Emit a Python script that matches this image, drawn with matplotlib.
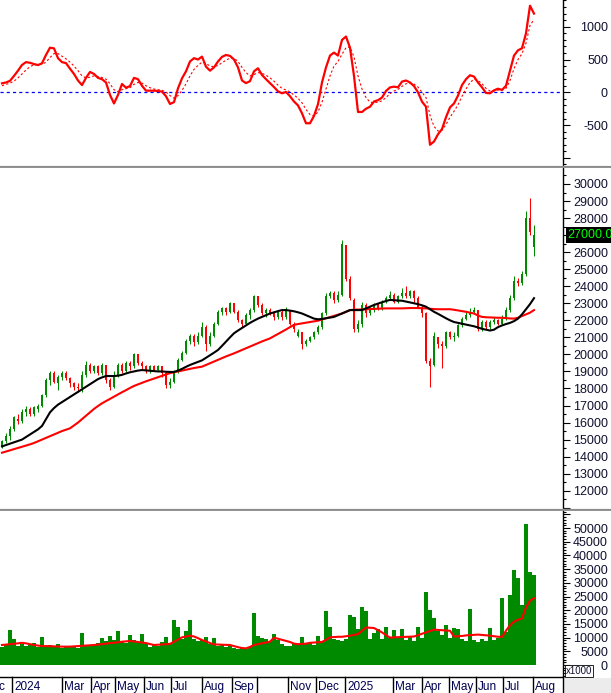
import numpy as np
import matplotlib
matplotlib.use("Agg")
import matplotlib.pyplot as plt
from matplotlib.ticker import MultipleLocator, FuncFormatter
from matplotlib.transforms import blended_transform_factory
from matplotlib.lines import Line2D
from matplotlib.patches import Rectangle

plt.rcParams['font.family'] = ['Liberation Sans', 'DejaVu Sans']
plt.rcParams['axes.unicode_minus'] = False

# price bars (x1000), one bar ~ 3 sessions
opens = [14.6, 14.9, 15.2, 15.6, 16.2, 16.1, 16.6, 16.8, 16.5, 16.8,
         17.0, 17.6, 18.5, 18.9, 18.3, 18.7, 18.9, 18.6, 18.3, 18.1,
         18.0, 18.8, 19.4, 19.0, 19.3, 18.9, 19.4, 18.5, 18.1, 18.8,
         19.4, 19.0, 19.5, 19.3, 20.0, 19.5, 19.3, 19.0, 19.3, 19.1,
         19.3, 18.9, 18.2, 18.4, 19.0, 19.7, 20.1, 20.8, 21.1, 20.7,
         21.1, 21.6, 20.6, 21.1, 21.8, 22.5, 22.7, 22.5, 23.0, 22.5,
         22.0, 21.8, 22.3, 22.6, 23.4, 22.9, 22.4, 22.6, 22.4, 22.2,
         22.5, 22.2, 22.6, 21.8, 21.1, 21.3, 20.6, 20.8, 21.0, 21.3,
         21.6, 22.4, 23.4, 23.6, 23.2, 23.5, 26.4, 24.4, 23.2, 21.5,
         21.8, 22.9, 22.4, 22.6, 22.9, 22.7, 23.1, 23.3, 23.5, 23.1,
         23.4, 23.6, 23.4, 23.7, 23.3, 22.8, 22.4, 19.6, 19.4, 21.0,
         20.6, 20.5, 21.3, 21.0, 21.1, 21.7, 22.1, 22.3, 22.5, 22.6,
         21.5, 21.9, 21.6, 21.9, 22.0, 21.8, 22.1, 22.6, 23.3, 24.3,
         24.2, 24.7, 28.0, 26.3]
closes = [14.9, 15.2, 15.6, 16.3, 16.1, 16.6, 16.8, 16.5, 16.9, 17.0,
          17.6, 18.5, 18.9, 18.4, 18.7, 18.9, 18.6, 18.3, 18.1, 18.0,
          18.8, 19.4, 19.0, 19.3, 18.9, 19.4, 18.5, 18.1, 18.8, 19.4,
          19.0, 19.5, 19.3, 20.0, 19.5, 19.3, 19.0, 19.3, 19.1, 19.3,
          18.9, 18.2, 18.4, 19.0, 19.7, 20.1, 20.8, 21.1, 20.7, 21.1,
          21.6, 20.6, 21.1, 21.8, 22.5, 22.7, 22.5, 23.0, 22.5, 22.0,
          21.8, 22.3, 22.6, 23.4, 22.9, 22.4, 22.6, 22.4, 22.2, 22.5,
          22.2, 22.6, 21.8, 21.5, 21.3, 20.6, 20.8, 21.0, 21.3, 21.6,
          22.4, 23.4, 23.6, 23.2, 23.5, 26.5, 24.4, 23.3, 21.5, 21.8,
          22.9, 22.4, 22.6, 22.9, 22.7, 23.1, 23.3, 23.5, 23.1, 23.4,
          23.6, 23.4, 23.7, 23.3, 22.8, 22.4, 19.6, 19.3, 21.1, 20.6,
          20.5, 21.3, 21.0, 21.1, 21.7, 22.1, 22.3, 22.5, 22.6, 21.5,
          21.9, 21.6, 21.9, 22.0, 21.8, 22.1, 22.6, 23.3, 24.3, 24.2,
          24.7, 28.0, 27.2, 27.0]
highs = [15.0, 15.4, 15.8, 16.4, 16.5, 16.8, 17.0, 16.9, 17.0, 17.1,
         17.7, 18.6, 19.0, 19.0, 18.8, 19.0, 19.0, 18.7, 18.4, 18.3,
         19.0, 19.6, 19.5, 19.4, 19.4, 19.5, 19.4, 18.6, 19.0, 19.5,
         19.5, 19.6, 19.6, 20.1, 20.0, 19.6, 19.4, 19.4, 19.4, 19.4,
         19.3, 19.0, 18.6, 19.1, 19.8, 20.2, 20.9, 21.2, 21.2, 21.3,
         21.9, 21.7, 21.3, 21.9, 22.6, 22.8, 22.8, 23.1, 23.0, 22.6,
         22.1, 22.4, 22.7, 23.5, 23.4, 23.0, 22.7, 22.7, 22.5, 22.6,
         22.6, 22.8, 22.6, 21.9, 21.5, 21.3, 20.9, 21.1, 21.4, 21.7,
         22.5, 23.6, 23.7, 23.7, 23.7, 26.7, 26.4, 24.6, 23.3, 22.0,
         23.1, 23.0, 22.8, 23.0, 23.0, 23.2, 23.4, 23.7, 23.6, 23.5,
         23.9, 24.0, 23.8, 23.8, 23.4, 22.9, 22.5, 19.8, 21.3, 21.0,
         20.8, 21.4, 21.4, 21.3, 21.8, 22.2, 22.5, 22.7, 22.8, 22.6,
         22.0, 22.0, 22.0, 22.2, 22.1, 22.3, 22.8, 23.5, 24.6, 24.5,
         24.9, 28.4, 29.2, 27.6]
lows = [14.5, 14.8, 15.0, 15.5, 15.9, 16.0, 16.4, 16.4, 16.4, 16.6,
        16.9, 17.5, 18.2, 18.3, 17.9, 18.5, 18.5, 18.1, 17.9, 17.8,
        17.8, 18.7, 18.9, 18.9, 18.8, 18.8, 18.3, 17.9, 18.0, 18.7,
        18.9, 18.9, 19.1, 19.2, 19.4, 19.1, 18.9, 18.9, 19.0, 19.0,
        18.7, 18.0, 18.0, 18.3, 18.9, 19.6, 20.0, 20.6, 20.5, 20.6,
        21.0, 20.2, 20.5, 21.0, 21.7, 22.3, 22.3, 22.4, 22.4, 21.9,
        21.6, 21.7, 22.1, 22.5, 22.8, 22.3, 22.2, 22.3, 22.0, 22.1,
        22.0, 22.1, 21.7, 21.3, 21.0, 20.3, 20.5, 20.7, 20.9, 21.2,
        21.5, 22.3, 23.3, 23.0, 23.1, 23.4, 24.3, 23.2, 21.3, 21.3,
        21.6, 22.2, 22.3, 22.5, 22.6, 22.6, 23.0, 23.2, 23.0, 23.0,
        23.3, 23.3, 23.3, 23.1, 22.7, 22.2, 19.5, 18.1, 19.3, 20.4,
        19.2, 20.4, 20.9, 20.8, 21.0, 21.6, 22.0, 22.2, 22.4, 21.4,
        21.4, 21.5, 21.5, 21.8, 21.7, 21.7, 22.0, 22.5, 23.2, 24.0,
        24.1, 24.6, 27.0, 25.8]

ma_short = [14.6, 14.68, 14.76, 14.84, 14.92, 15.0, 15.15, 15.3, 15.45, 15.6,
            15.8, 16.2, 16.6, 16.85, 17.05, 17.2, 17.35, 17.5, 17.65, 17.8,
            17.95, 18.1, 18.25, 18.4, 18.55, 18.65, 18.73, 18.73, 18.73, 18.75,
            18.8, 18.88, 18.95, 19.0, 19.05, 19.08, 19.06, 19.04, 19.02, 19.0,
            19.0, 18.98, 18.97, 18.97, 19.05, 19.15, 19.27, 19.38, 19.47, 19.56,
            19.65, 19.8, 19.95, 20.1, 20.26, 20.5, 20.75, 21.0, 21.24, 21.4,
            21.55, 21.7, 21.85, 21.98, 22.1, 22.2, 22.3, 22.4, 22.47, 22.54,
            22.6, 22.6, 22.57, 22.53, 22.47, 22.4, 22.3, 22.2, 22.1, 22.06,
            22.08, 22.12, 22.16, 22.2, 22.3, 22.4, 22.5, 22.6, 22.6, 22.6,
            22.6, 22.7, 22.8, 22.9, 22.98, 23.06, 23.13, 23.2, 23.18, 23.16,
            23.15, 23.1, 23.05, 23.0, 22.95, 22.88, 22.8, 22.65, 22.5, 22.38,
            22.25, 22.12, 22.0, 21.9, 21.85, 21.8, 21.75, 21.7, 21.65, 21.58,
            21.5, 21.45, 21.4, 21.45, 21.6, 21.7, 21.78, 21.85, 21.95, 22.1,
            22.35, 22.65, 22.95, 23.3]
ma_long = [14.23, 14.3, 14.37, 14.44, 14.51, 14.58, 14.65, 14.72, 14.8, 14.9,
           15.0, 15.1, 15.2, 15.3, 15.4, 15.5, 15.58, 15.66, 15.83, 16.0,
           16.2, 16.4, 16.6, 16.8, 16.97, 17.13, 17.26, 17.39, 17.52, 17.65,
           17.78, 17.9, 18.03, 18.15, 18.24, 18.33, 18.42, 18.5, 18.58, 18.66,
           18.74, 18.82, 18.9, 18.95, 19.0, 19.05, 19.1, 19.15, 19.2, 19.24,
           19.28, 19.38, 19.48, 19.58, 19.68, 19.78, 19.88, 19.97, 20.06, 20.16,
           20.26, 20.36, 20.46, 20.56, 20.66, 20.76, 20.85, 20.94, 21.07, 21.2,
           21.33, 21.46, 21.6, 21.73, 21.78, 21.82, 21.86, 21.9, 21.94, 21.98,
           22.05, 22.12, 22.19, 22.26, 22.33, 22.4, 22.5, 22.6, 22.62, 22.63,
           22.64, 22.65, 22.66, 22.67, 22.68, 22.69, 22.7, 22.7, 22.7, 22.7,
           22.7, 22.71, 22.72, 22.72, 22.72, 22.71, 22.7, 22.68, 22.66, 22.65,
           22.65, 22.65, 22.65, 22.62, 22.58, 22.54, 22.5, 22.45, 22.4, 22.28,
           22.2, 22.18, 22.17, 22.16, 22.15, 22.15, 22.13, 22.11, 22.1, 22.15,
           22.25, 22.35, 22.45, 22.6]

macd = [137, 150, 175, 250, 330, 417, 460, 450, 430, 415,
        442, 570, 680, 670, 520, 460, 445, 360, 280, 180,
        110, 220, 310, 280, 220, 200, 150, -40, -170, -40,
        127, 70, 95, 220, 200, 100, 25, 25, 25, 20,
        10, -60, -178, -150, 60, 213, 320, 470, 520, 500,
        544, 391, 330, 380, 470, 540, 569, 555, 500, 380,
        180, 140, 170, 320, 366, 264, 200, 140, 80, 15,
        -15, 5, -60, -140, -200, -320, -472, -472, -360, -180,
        150, 380, 560, 605, 560, 798, 850, 680, 250, -300,
        -300, -250, -220, -140, -120, -80, 20, 75, 86, 76,
        163, 180, 150, 95, 0, -142, -220, -800, -750, -640,
        -560, -380, -230, -170, -50, 110, 200, 260, 240, 150,
        76, -10, -15, 30, 55, 36, 100, 330, 560, 640,
        671, 900, 1320, 1200]
signal = [100, 120, 140, 170, 220, 280, 340, 390, 420, 425,
          425, 460, 530, 590, 590, 550, 510, 460, 400, 330,
          250, 220, 230, 250, 240, 225, 200, 130, 40, 10,
          40, 55, 70, 120, 150, 140, 100, 70, 50, 40,
          30, 5, -50, -90, -50, 30, 130, 250, 350, 410,
          460, 440, 400, 390, 410, 450, 490, 520, 520, 470,
          380, 300, 250, 270, 300, 290, 260, 220, 170, 110,
          60, 35, 5, -40, -90, -160, -260, -340, -360, -300,
          -150, 50, 250, 400, 470, 580, 680, 690, 540, 250,
          50, -80, -150, -160, -150, -130, -80, -20, 20, 45,
          90, 130, 140, 125, 80, 0, -80, -350, -520, -590,
          -580, -490, -380, -290, -190, -60, 50, 150, 200, 180,
          130, 60, 20, 20, 35, 35, 60, 180, 360, 500,
          590, 750, 1020, 1110]

volume = [6500, 7200, 12800, 9500, 7000, 7500, 6800, 7300, 8200, 6500,
          10300, 6900, 7400, 6700, 7800, 6200, 6900, 6600, 7100, 6300,
          11500, 7000, 6800, 7200, 8000, 10000, 8600, 10500, 9200, 12500,
          8900, 8000, 11000, 9000, 8400, 11300, 7600, 6500, 7700, 6800,
          8400, 10200, 8000, 16500, 14000, 9500, 12500, 16300, 9400, 8600,
          9000, 10300, 7500, 10000, 6800, 7200, 6500, 6800, 6200, 6000,
          6300, 5800, 6600, 18800, 10500, 10000, 9500, 8800, 11200, 9000,
          7800, 7000, 6900, 7600, 7300, 10400, 7500, 8000, 7200, 10700,
          8500, 19800, 14000, 9500, 9000, 8600, 9400, 18300, 17700, 13300,
          21200, 19600, 9500, 11500, 13000, 9400, 14000, 10000, 12600, 9800,
          13300, 9000, 10500, 8800, 14000, 9800, 26800, 20000, 17000, 12500,
          11000, 14600, 10000, 13500, 13200, 9500, 8800, 20400, 9000, 8500,
          9600, 8800, 13500, 9200, 9800, 24400, 12000, 25600, 34700, 31600,
          22000, 51500, 34000, 32800]
vol_ma = [7300, 7450, 7600, 7750, 7900, 8100, 7900, 7600, 7300, 7100,
          6900, 6900, 6850, 6800, 6750, 6700, 6700, 6700, 6800, 6900,
          7000, 7100, 7200, 7300, 7450, 7600, 7800, 8000, 8100, 8300,
          8500, 8650, 8760, 8600, 8400, 8200, 8000, 7650, 7300, 7400,
          7500, 7600, 7700, 8500, 9300, 10100, 10400, 10700, 10400, 9800,
          9100, 8600, 8000, 7540, 7450, 7400, 7350, 7300, 6900, 6500,
          6200, 6080, 6600, 7300, 7600, 7900, 8200, 8520, 9980, 9600,
          9200, 8800, 8400, 7800, 7600, 7700, 7800, 8100, 8200, 8300,
          8400, 9200, 10100, 10200, 10300, 10300, 10500, 10700, 11000, 11300,
          12500, 13700, 13600, 13500, 12700, 11900, 10900, 10000, 10100, 10150,
          10200, 10270, 10330, 10400, 10900, 11400, 11900, 12400, 12900, 12800,
          12700, 12600, 12500, 10400, 10500, 10600, 10800, 10900, 11000, 11100,
          10970, 10830, 10700, 10500, 10300, 10300, 12500, 14500, 15800, 16500,
          17000, 21000, 23500, 24400]

# month boundaries, in bar units
month_edges = [-5, 2.5, 15, 22.25, 28.25, 35.5, 42.25, 50, 57.5, 63.75,
               71.5, 78.5, 85.75, 97.75, 105, 111.75, 118.5, 125.25, 132.75]
month_labels = ["Dec", "2024", "Mar", "Apr", "May", "Jun", "Jul", "Aug", "Sep", "",
                "Nov", "Dec", "2025", "Mar", "Apr", "May", "Jun", "Jul", "Aug"]
last_price = 27000

W, H = 611, 693
fig = plt.figure(figsize=(W / 100, H / 100), dpi=100)
fig.patch.set_facecolor('white')
RIGHT = 562.7


def box(top, bottom):
    return [0, 1 - bottom / H, RIGHT / W, (bottom - top) / H]


ax1 = fig.add_axes(box(0, 165))
ax2 = fig.add_axes(box(168, 508))
ax3 = fig.add_axes(box(511, 677))

n = len(closes)
x = np.arange(n)
o = np.array(opens) * 1000
c = np.array(closes) * 1000
hi = np.array(highs) * 1000
lo = np.array(lows) * 1000
green = '#008a00'
cols = np.where(c >= o, green, '#ff0000')

# MACD panel
ax1.axhline(0, color='#0000ff', lw=0.9, ls=(0, (2.5, 2.5)))
ax1.plot(x, signal, color='#ff0000', lw=0.8, ls=(0, (2, 2)))
ax1.plot(x, macd, color='#ff0000', lw=1.6)
ax1.set_ylim(-1108, 1407)

# price panel
ax2.vlines(x, lo, hi, colors=cols, lw=0.75)
ax2.bar(x, np.maximum(np.abs(c - o), 60), bottom=np.minimum(o, c), width=0.55,
        color=cols, linewidth=0)
ax2.plot(x, np.array(ma_long) * 1000, color='#ff0000', lw=1.5)
ax2.plot(x, np.array(ma_short) * 1000, color='black', lw=1.5)
ax2.set_ylim(10985, 30939)

# volume panel
ax3.bar(x, volume, width=1.02, color=green, linewidth=0)
ax3.plot(x, vol_ma, color='#ff0000', lw=1.5)
ax3.set_ylim(-4380, 56210)


def setup(ax, major, minor, lab_lo, lab_hi, skip=None):
    ax.set_xlim(-0.5, RIGHT / 4 - 0.5)
    ax.set_xticks([])
    for s in ['left', 'top', 'bottom']:
        ax.spines[s].set_visible(False)
    ax.spines['right'].set_linewidth(1.0)
    ax.yaxis.tick_right()
    ax.yaxis.set_major_locator(MultipleLocator(major))
    ax.yaxis.set_minor_locator(MultipleLocator(minor))
    ax.yaxis.set_major_formatter(FuncFormatter(
        lambda v, p: f"{v:.0f}" if lab_lo <= v <= lab_hi and v != skip else ""))
    ax.tick_params(axis='y', which='major', length=5, width=0.8, pad=27.6,
                   labelsize=9, labelcolor='#101030')
    ax.tick_params(axis='y', which='minor', length=2.2, width=0.8)
    plt.setp(ax.get_yticklabels(), ha='right')


setup(ax1, 500, 100, -500, 1000)
# the 27000 label sits under the last-price tag
setup(ax2, 1000, 500, 12000, 30000, skip=last_price)
setup(ax3, 5000, 1000, 0, 50000)

# last price tag
ax2.text(1.0085, last_price, f"{last_price:.2f}",
         transform=blended_transform_factory(ax2.transAxes, ax2.transData),
         color='#00ff00', fontsize=9, va='center', ha='left', clip_on=False,
         zorder=10, bbox=dict(facecolor='black', edgecolor='none', pad=1.2))


def fx(px):
    return px / W


def fy(py):
    return 1 - py / H


# panel separators
for yy, col, lw in [(165.5, '#c8c8c8', 1.0), (167.0, '#808080', 1.2),
                    (508.5, '#c8c8c8', 1.0), (510.0, '#808080', 1.2)]:
    fig.add_artist(Line2D([0, 1], [fy(yy), fy(yy)], color=col, lw=lw))

# date row
fig.add_artist(Line2D([0, fx(RIGHT)], [fy(677), fy(677)], color='black', lw=1.0))
fig.add_artist(Line2D([fx(RIGHT), fx(RIGHT)], [fy(677), 0], color='black', lw=1.0))
fig.add_artist(Rectangle((fx(RIGHT + 1), 0), 1 - fx(RIGHT + 1), fy(678),
                         facecolor='#ececec', edgecolor='none'))
tr = blended_transform_factory(ax3.transData, fig.transFigure)
for edge, lab in zip(month_edges, month_labels):
    fig.add_artist(Line2D([edge, edge], [fy(677), 0], color='black', lw=1.0,
                          transform=tr))
    fig.text(edge + 0.5, fy(687), lab, transform=tr, fontsize=8.5,
             color='#000050', va='center', ha='left')

fig.text(fx(566), fy(671), "x1000", fontsize=7, va='center', ha='left',
         color='#101030',
         bbox=dict(facecolor='white', edgecolor='black', lw=0.6, pad=0.8))

fig.savefig("out.png", dpi=100)
